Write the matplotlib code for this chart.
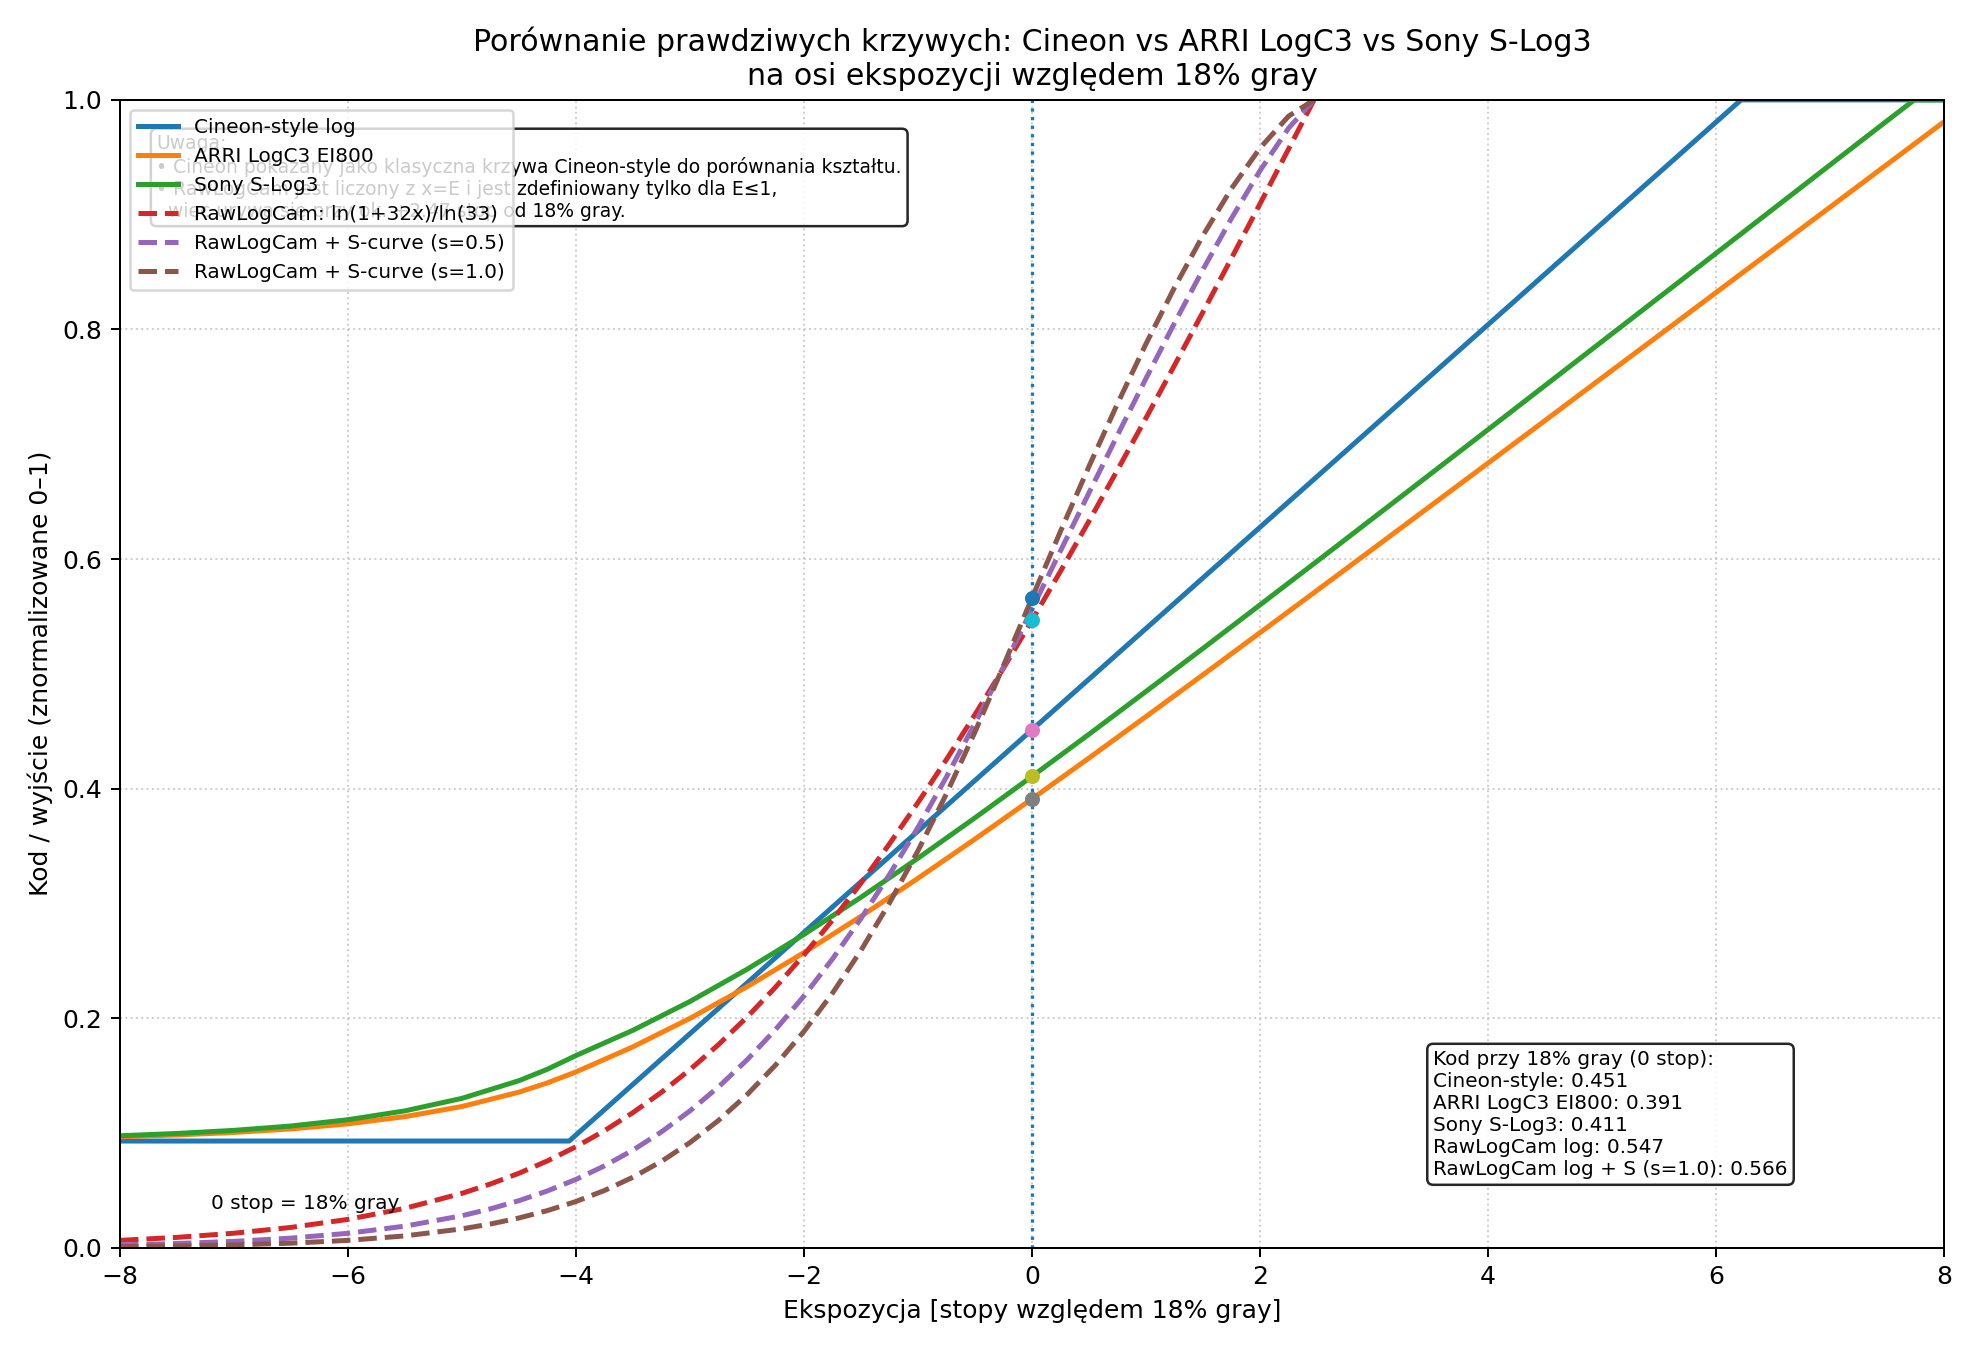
import matplotlib
matplotlib.use("Agg")
import matplotlib.pyplot as plt

# ---- data ----
cineon_stops = [-8, -4.06, 0, 6.22, 8]
cineon_vals = [0.0929, 0.0929, 0.4512, 1.0, 1.0]

arri_stops = [-8, -7.5, -7, -6.5, -6, -5.5, -5, -4.5, -4.25, -4.09, -4, -3.5, -3, -2.5, -2, -1.5,
              -1, -0.5, 0, 0.5, 1, 1.5, 2, 2.5, 3, 3.5, 4, 4.5, 5, 5.5, 6, 6.5, 7, 7.5, 8]
arri_vals = [0.0966, 0.0982, 0.1004, 0.1035, 0.1079, 0.1142, 0.1230, 0.1355, 0.1436, 0.1497,
             0.1531, 0.1750, 0.1998, 0.2273, 0.2571, 0.2887, 0.3218, 0.3560, 0.3910, 0.4266,
             0.4627, 0.4991, 0.5358, 0.5726, 0.6095, 0.6465, 0.6835, 0.7206, 0.7578, 0.7949,
             0.8321, 0.8693, 0.9065, 0.9437, 0.9809]

sony_stops = [-8, -7.5, -7, -6.5, -6, -5.5, -5, -4.5, -4.25, -4, -3.5, -3, -2.5, -2, -1.5, -1,
              -0.5, 0, 0.5, 1, 1.5, 2, 2.5, 3, 3.5, 4, 4.5, 5, 5.5, 6, 6.5, 7, 7.5, 7.74, 8]
sony_vals = [0.0975, 0.0995, 0.1022, 0.1060, 0.1115, 0.1192, 0.1301, 0.1455, 0.1555, 0.1674,
             0.1894, 0.2145, 0.2425, 0.2729, 0.3053, 0.3393, 0.3745, 0.4106, 0.4473, 0.4846,
             0.5221, 0.5600, 0.5980, 0.6362, 0.6744, 0.7127, 0.7511, 0.7895, 0.8279, 0.8663,
             0.9048, 0.9433, 0.9817, 1.0, 1.0]

raw_stops = [-8, -7.5, -7, -6.5, -6, -5.5, -5, -4.75, -4.5, -4.25, -4, -3.75, -3.5, -3.25, -3,
             -2.75, -2.5, -2.25, -2, -1.75, -1.5, -1.25, -1, -0.75, -0.5, -0.25, 0, 0.25, 0.5,
             0.75, 1, 1.25, 1.5, 1.75, 2, 2.25, 2.474]
raw_vals = [0.00636, 0.00896, 0.01259, 0.01765, 0.02465, 0.03427, 0.04734, 0.05548, 0.06486,
            0.07564, 0.08794, 0.10192, 0.11770, 0.13539, 0.15510, 0.17691, 0.20084, 0.22691,
            0.25511, 0.28539, 0.31766, 0.35183, 0.38777, 0.42535, 0.46444, 0.50489, 0.54655,
            0.58930, 0.63300, 0.67755, 0.72282, 0.76872, 0.81517, 0.86208, 0.90940, 0.95706, 1.0]
s05_vals = [0.00239, 0.00362, 0.00550, 0.00832, 0.01252, 0.01875, 0.02785, 0.03383, 0.04096,
            0.04945, 0.05948, 0.07126, 0.08501, 0.10091, 0.11919, 0.14003, 0.16358, 0.18996,
            0.21928, 0.25156, 0.28683, 0.32508, 0.36622, 0.41016, 0.45680, 0.50598, 0.55641,
            0.60708, 0.65767, 0.70785, 0.75727, 0.80555, 0.85225, 0.89678, 0.93831, 0.97528, 1.0]
s10_vals = [0.00089, 0.00147, 0.00240, 0.00392, 0.00636, 0.01026, 0.01639, 0.02063, 0.02587,
            0.03233, 0.04023, 0.04982, 0.06139, 0.07521, 0.09159, 0.11084, 0.13323, 0.15902,
            0.18846, 0.22174, 0.25900, 0.30036, 0.34585, 0.39550, 0.44928, 0.50707, 0.56606,
            0.62410, 0.68068, 0.73531, 0.78744, 0.83652, 0.88189, 0.92275, 0.95800, 0.98577, 1.0]

gray_codes = [0.451, 0.391, 0.411, 0.547, 0.566]
gray_colors = ["C6", "C7", "C8", "C9", "C0"]

labels = ["Cineon-style log", "ARRI LogC3 EI800", "Sony S-Log3",
          "RawLogCam: ln(1+32x)/ln(33)", "RawLogCam + S-curve (s=0.5)",
          "RawLogCam + S-curve (s=1.0)"]

fig, ax = plt.subplots(figsize=(11, 7.5), dpi=180)
fig.subplots_adjust(left=0.0606, right=0.9818, bottom=0.0758, top=0.926)

ax.plot(cineon_stops, cineon_vals, color="C0", lw=2, label=labels[0])
ax.plot(arri_stops, arri_vals, color="C1", lw=2, label=labels[1])
ax.plot(sony_stops, sony_vals, color="C2", lw=2, label=labels[2])
ax.plot(raw_stops, raw_vals, "--", color="C3", lw=2, label=labels[3])
ax.plot(raw_stops, s05_vals, "--", color="C4", lw=2, label=labels[4])
ax.plot(raw_stops, s10_vals, "--", color="C5", lw=2, label=labels[5])

ax.axvline(0, color="C0", linestyle=":", lw=1.3)
for v, c in zip(gray_codes, gray_colors):
    ax.scatter([0], [v], color=c, s=25, zorder=4)

ax.set_xlim(-8, 8)
ax.set_ylim(0, 1)
ax.grid(True, linestyle=":", alpha=0.6)
ax.set_xlabel("Ekspozycja [stopy względem 18% gray]")
ax.set_ylabel("Kod / wyjście (znormalizowane 0–1)")
ax.set_title("Porównanie prawdziwych krzywych: Cineon vs ARRI LogC3 vs Sony S-Log3\n"
             "na osi ekspozycji względem 18% gray")

ax.text(0.05, 0.03, "0 stop = 18% gray", transform=ax.transAxes, fontsize=8, va="bottom")

note = ("Uwaga:\n"
        "• Cineon pokazany jako klasyczna krzywa Cineon-style do porównania kształtu.\n"
        "• RawLogCam jest liczony z x=E i jest zdefiniowany tylko dla E≤1,\n"
        "  więc urywa się przy ok. +2.47 stop od 18% gray.")
ax.text(0.02, 0.97, note, transform=ax.transAxes, fontsize=7.5, va="top", ha="left",
        bbox=dict(boxstyle="round", facecolor="white", edgecolor="black", alpha=0.85))

summary = ("Kod przy 18% gray (0 stop):\n"
           f"Cineon-style: {gray_codes[0]:.3f}\n"
           f"ARRI LogC3 EI800: {gray_codes[1]:.3f}\n"
           f"Sony S-Log3: {gray_codes[2]:.3f}\n"
           f"RawLogCam log: {gray_codes[3]:.3f}\n"
           f"RawLogCam log + S (s=1.0): {gray_codes[4]:.3f}")
ax.text(0.72, 0.06, summary, transform=ax.transAxes, fontsize=8, va="bottom", ha="left",
        bbox=dict(boxstyle="round", facecolor="white", edgecolor="black", alpha=0.85))

ax.legend(loc="upper left", fontsize=8)

fig.savefig("out.png", dpi=180)
